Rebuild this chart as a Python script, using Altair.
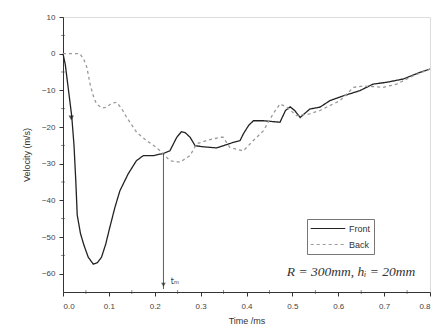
import altair as alt
import pandas as pd

front_t = [0.0, 0.005, 0.012, 0.019, 0.024, 0.028, 0.031, 0.038, 0.045, 0.055, 0.066, 0.075,
           0.084, 0.093, 0.102, 0.113, 0.124, 0.142, 0.16, 0.175, 0.197, 0.219, 0.233, 0.248,
           0.258, 0.266, 0.277, 0.288, 0.306, 0.335, 0.357, 0.371, 0.386, 0.393, 0.405, 0.415,
           0.437, 0.473, 0.485, 0.495, 0.505, 0.517, 0.538, 0.56, 0.582, 0.611, 0.647, 0.676,
           0.706, 0.742, 0.778, 0.8]
front_v = [0, -3, -10, -17, -25, -35, -44, -49, -52, -55.5, -57.4, -57, -55.5, -52, -47.4, -42,
           -37.4, -32.8, -29.2, -27.8, -27.8, -27.2, -26.5, -22.8, -21.3, -21.5, -22.8, -25.1,
           -25.4, -25.7, -24.8, -24.2, -23.7, -21.9, -19.5, -18.3, -18.3, -18.7, -15.5, -14.5,
           -15.5, -17.4, -15.1, -14.6, -12.8, -11.5, -10.1, -8.3, -7.8, -6.9, -5.1, -4.2]

back_t = [0.0, 0.037, 0.045, 0.052, 0.059, 0.066, 0.073, 0.085, 0.095, 0.106, 0.117, 0.128,
          0.139, 0.161, 0.182, 0.204, 0.22, 0.233, 0.255, 0.277, 0.291, 0.313, 0.342, 0.349,
          0.364, 0.393, 0.415, 0.437, 0.458, 0.473, 0.488, 0.509, 0.538, 0.56, 0.604, 0.633,
          0.655, 0.698, 0.727, 0.764, 0.8]
back_v = [0, 0, -1.5, -3.7, -8.3, -11.5, -13.7, -14.8, -14.6, -13.5, -13.3, -15, -17.4, -21.5,
          -23.7, -25.6, -27.5, -29.2, -29.6, -27.8, -24.6, -23.7, -22.8, -22.8, -25.6, -26.5,
          -23.7, -21.0, -16.4, -13.7, -14.6, -16.9, -16.4, -15.5, -12.8, -9.2, -8.8, -9.2,
          -8.3, -6.0, -4.2]

series_names = ["Front", "Back"]
x_major = [0.0, 0.1, 0.2, 0.3, 0.4, 0.5, 0.6, 0.7, 0.8]
x_minor = [0.05, 0.15, 0.25, 0.35, 0.45, 0.55, 0.65, 0.75]
y_major = [-60, -50, -40, -30, -20, -10, 0, 10]
y_minor = [-55, -45, -35, -25, -15, -5, 5]

tm_t = [0.219, 0.219]
tm_v = [-27.2, -64.2]
tm_label = "tₘ"
start_arrow_t = [0.018]
start_arrow_v = [-17.5]
note = "R = 300mm, hᵢ = 20mm"

df = pd.concat([
    pd.DataFrame({"t": front_t, "v": front_v, "s": "Front", "o": range(len(front_t))}),
    pd.DataFrame({"t": back_t, "v": back_v, "s": "Back", "o": range(len(back_t))}),
])

xscale = alt.Scale(domain=[0, 0.8], nice=False, zero=False)
yscale = alt.Scale(domain=[-65, 10], nice=False, zero=False)

common = dict(grid=False, labelFontSize=8, titleFontSize=9, labelColor="#444", titleColor="#333",
              domainColor="#333", tickColor="#333", labelFont="Liberation Sans",
              titleFont="Liberation Sans", titleFontWeight="normal", labelOverlap=False,
              tickSize=4, tickCount=30)

x_axis = alt.Axis(title="Time /ms", values=x_major, format=".1f",
                  labelPadding=6, titlePadding=6, **common)
y_axis = alt.Axis(title="Velocity (m/s)", values=y_major, format="d",
                  labelPadding=4, titlePadding=10, **common)

lines = alt.Chart(df).mark_line(strokeWidth=1.3).encode(
    x=alt.X("t:Q", scale=xscale, axis=x_axis),
    y=alt.Y("v:Q", scale=yscale, axis=y_axis),
    order="o:Q",
    color=alt.Color("s:N", scale=alt.Scale(domain=series_names, range=["#222222", "#9a9a9a"]),
                    legend=alt.Legend(title=None, orient="none", legendX=244, legendY=202,
                                      strokeColor="#777", padding=3, symbolType="stroke",
                                      symbolSize=1200, symbolStrokeWidth=1.2, labelFontSize=9,
                                      clipHeight=13, rowPadding=3, labelOffset=3,
                                      labelFont="Liberation Sans", labelColor="#333")),
    strokeDash=alt.StrokeDash("s:N", scale=alt.Scale(domain=series_names, range=[[1, 0], [3, 3]]),
                              legend=None),
)

xminor_ticks = alt.Chart(pd.DataFrame({"t": x_minor, "v": [-65] * len(x_minor)})).mark_tick(
    orient="vertical", size=4, thickness=0.8, color="#333").encode(
    x=alt.X("t:Q", scale=xscale), y=alt.Y("v:Q", scale=yscale))
yminor_ticks = alt.Chart(pd.DataFrame({"t": [0.0] * len(y_minor), "v": y_minor})).mark_tick(
    orient="horizontal", size=4, thickness=0.8, color="#333").encode(
    x=alt.X("t:Q", scale=xscale), y=alt.Y("v:Q", scale=yscale))

tm_df = pd.DataFrame({"t": tm_t, "v": tm_v})
tm_line = alt.Chart(tm_df).mark_line(color="#333", strokeWidth=0.8).encode(
    x=alt.X("t:Q", scale=xscale), y=alt.Y("v:Q", scale=yscale))
tm_head = alt.Chart(pd.DataFrame({"t": [tm_t[1]], "v": [tm_v[1] + 1.2]})).mark_point(
    shape="triangle-down", filled=True, color="#222", size=22).encode(
    x=alt.X("t:Q", scale=xscale), y=alt.Y("v:Q", scale=yscale))
tm_text = alt.Chart(pd.DataFrame({"t": [tm_t[1] + 0.016], "v": [tm_v[1] + 2.0], "l": [tm_label]})).mark_text(
    align="left", fontSize=8, color="#333", font="DejaVu Sans").encode(
    x=alt.X("t:Q", scale=xscale), y=alt.Y("v:Q", scale=yscale), text="l:N")
start_head = alt.Chart(pd.DataFrame({"t": start_arrow_t, "v": start_arrow_v})).mark_point(
    shape="triangle-down", filled=True, color="#111", size=30).encode(
    x=alt.X("t:Q", scale=xscale), y=alt.Y("v:Q", scale=yscale))
note_text = alt.Chart(pd.DataFrame({"l": [note]})).mark_text(
    align="center", fontSize=13.5, fontStyle="italic", font="Liberation Serif", color="#333").encode(
    x=alt.value(288), y=alt.value(255), text="l:N")

chart = alt.layer(lines, xminor_ticks, yminor_ticks, tm_line, tm_head, tm_text,
                  start_head, note_text).properties(
    width=367, height=275,
    autosize=alt.AutoSizeParams(type="none"),
    padding={"left": 63, "top": 17, "right": 8, "bottom": 37},
).configure_view(stroke=None).configure(background="white")

chart.save("out.html", embed_options={"renderer": "svg", "actions": False})
